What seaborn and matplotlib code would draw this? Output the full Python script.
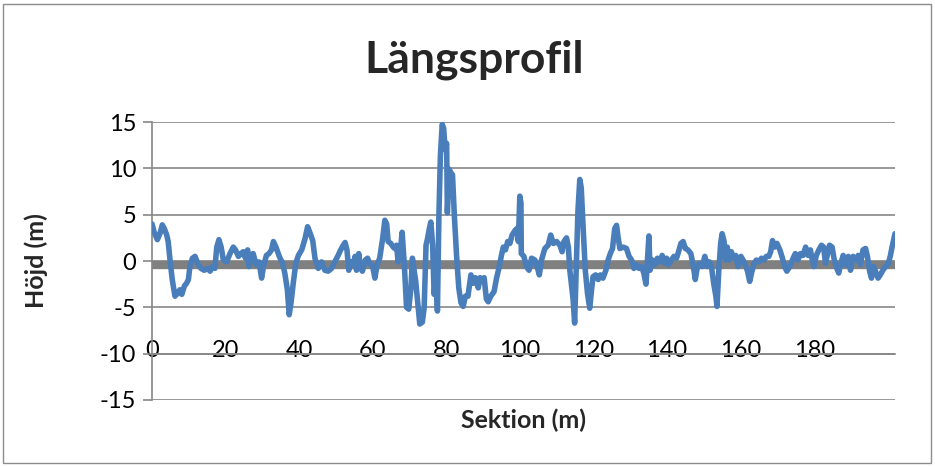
import matplotlib
matplotlib.use("Agg")
import matplotlib.pyplot as plt
import seaborn as sns
import pandas as pd
from matplotlib.patches import Rectangle

# ---------------- data ----------------
section_m = [
    0.0, 0.6, 1.45, 2.2, 2.8, 3.35, 4.0, 4.4, 4.9, 5.5, 6.25, 7.0, 7.6, 8.1, 8.8, 9.4, 9.9,
    10.3, 11.0, 11.7, 12.4, 13.3, 14.2, 15.1, 15.8, 16.4, 17.1, 17.6, 18.2, 18.8, 19.4,
    20.3, 21.2, 22.1, 22.7, 23.5, 24.2, 24.8, 25.4, 26.0, 26.4, 26.9, 27.5, 28.3, 29.1,
    29.8, 30.3, 31.1, 31.8, 32.5,
    33.0, 33.7, 34.6, 35.5, 36.1, 36.8, 37.3, 37.8, 38.4, 39.1, 39.8, 40.7, 41.6, 42.3,
    42.9, 43.7, 44.3, 45.2, 46.1, 47.0, 47.9, 48.8, 49.7, 50.6, 51.3, 52.0, 52.5, 53.0,
    53.5, 54.0, 54.7, 55.2, 55.6, 56.2, 56.7, 57.2, 58.0, 58.6, 59.2, 60.0, 60.6, 61.2,
    61.9, 62.7, 63.3, 63.8, 64.2, 64.9, 65.6,
    66.0, 66.5, 66.9, 67.4, 68.0, 68.6, 69.2, 69.8, 70.4, 70.8, 71.3, 71.7, 72.2, 72.8,
    73.5, 74.0, 74.5, 74.9, 75.4, 75.8, 76.3, 76.7, 77.2, 77.6, 78.0, 78.4, 78.9, 79.3,
    79.7, 80.1, 80.3, 80.8, 81.3, 81.7, 82.2, 82.8, 83.4, 84.0, 84.6, 85.2, 85.9, 86.7,
    87.3, 87.9, 88.7, 89.2, 89.8, 90.3, 90.9, 91.4, 92.1, 93.0, 93.7, 94.3, 95.0, 95.5,
    96.1, 96.7, 97.3, 97.9, 98.7, 99.2, 99.6, 100.0, 100.3,
    100.4, 101.1, 101.8, 102.5, 103.2, 104.1, 104.7, 105.3, 105.9, 106.8, 107.7, 108.4,
    109.1, 110.0, 110.9, 111.5, 112.0, 112.7, 113.2, 113.6, 114.0, 114.5, 114.9, 115.4,
    115.8, 116.3, 116.7, 117.2, 117.8, 118.4, 119.0, 119.5, 119.9, 120.6, 121.3, 121.9,
    122.6, 123.4, 124.0, 124.6, 125.2, 125.8, 126.3, 126.7, 127.2, 128.1, 129.0, 129.7,
    130.4, 131.0, 131.7, 132.4, 133.1, 133.7,
    134.3, 135.1, 135.4, 136.0, 136.7, 137.4, 138.0, 138.7, 139.4, 139.9, 140.5, 141.2,
    141.9, 142.6, 143.0, 143.8, 144.4, 145.0, 145.7, 146.5, 147.1, 147.7, 148.3, 148.9,
    149.6, 150.3, 151.0, 151.6, 152.1, 152.7, 153.3, 153.6, 154.1, 154.6, 155.0, 155.5,
    155.9, 156.4, 156.9, 157.5, 158.1, 158.7, 159.3, 160.1, 160.7, 161.3, 161.9, 162.5,
    163.0, 163.7, 164.3, 165.0, 165.7, 166.4, 167.0, 167.7, 168.2,
    168.7, 169.3, 169.9, 170.7, 171.4, 172.0, 172.6, 173.4, 174.3, 174.9, 175.6, 176.3,
    177.0, 177.7, 178.4, 179.0, 179.5, 180.0, 180.6, 181.3, 182.0, 182.6, 183.1, 183.8,
    184.2, 184.9, 185.4, 186.0, 186.7, 187.2, 187.9, 188.6, 189.3, 189.9, 190.6, 191.4,
    192.0, 192.6, 193.3, 194.0, 194.5, 195.1, 195.6, 196.2, 196.7, 197.4, 198.0, 198.7,
    199.4, 200.1, 200.7, 201.2, 201.6, 202.0,
]
height_m = [
    4.0, 3.1, 2.3, 3.0, 3.9, 3.5, 2.8, 2.1, 0.1, -2.0, -3.8, -3.45, -3.1, -3.6, -2.7, -2.4, -2.0,
    -0.6, 0.3, 0.5, -0.25, -0.8, -1.0, -0.8, -1.1, -0.6, -0.8, 1.5, 2.3, 1.5, 0.1,
    -0.1, 0.8, 1.5, 1.2, 0.5, 0.8, 1.0, 0.3, 1.2, -0.6, 0.6, 0.8, -0.4, -0.1,
    -1.85, -0.6, 0.6, 0.8, 1.2,
    2.1, 1.5, 0.5, -0.25, -1.3, -3.1, -5.8, -4.5, -2.4, -0.25, 0.6, 1.2, 2.4, 3.7,
    3.1, 2.2, 0.3, -0.8, -0.1, -1.0, -1.1, -0.8, -0.1, 0.6, 1.2, 1.7, 2.0, 1.2,
    -1.0, -0.1, -0.4, 0.5, -1.0, 0.8, -0.8, -1.1, 0.1, 0.3, -0.25, -0.6, -1.85, -0.4,
    0.3, 2.4, 4.4, 4.0, 2.1, 1.9, 1.5,
    1.35, 1.7, -0.1, 0.6, 3.1, -0.4, -5.0, -5.2, -2.9, 0.3, -1.1, -2.2, -4.3, -6.8,
    -6.6, -5.0, 1.7, 2.4, 3.5, 4.2, 1.7, -3.6, -1.5, -5.4, 4.9, 11.3, 14.75, 14.3,
    12.0, 12.7, 5.2, 9.9, 9.5, 9.3, 4.9, 0.6, -2.9, -4.5, -4.9, -3.8, -3.8, -1.5,
    -2.4, -1.8, -2.9, -1.8, -2.2, -1.8, -4.1, -4.4, -3.8, -3.3, -1.8, -0.8, 0.6, 1.5,
    1.2, 2.1, 1.9, 2.8, 3.3, 3.5, 2.1, 7.0, 6.3,
    0.8, 0.5, -0.6, -1.0, 0.3, 0.1, -0.6, -1.5, 0.1, 1.35, 1.7, 2.8,
    1.9, 2.1, 1.7, 1.0, 2.1, 2.5, 1.5, -1.0, -2.4, -4.2, -6.7, 0.1,
    5.4, 8.8, 7.9, 3.7, -1.0, -3.5, -5.1, -3.1, -1.7, -1.5, -2.0, -1.5,
    -1.85, -1.0, 0.1, 0.8, 1.35, 3.5, 3.85, 2.6, 1.35, 1.5, 1.35, 0.5,
    0.1, -0.8, -0.4, -0.8, -0.6, -1.3,
    -2.5, 2.7, -1.0, 0.1, -0.4, 0.3, -0.1, 0.6, -0.25, 0.3, -0.4, 0.1,
    0.5, 0.3, 0.8, 1.9, 2.1, 1.35, 1.2, 0.8, -0.4, -2.0, -0.6, -0.25,
    -0.6, 0.5, -0.6, -0.1, -0.6, -2.4, -3.8, -4.9, -1.0, 1.9, 2.95, 2.2,
    0.1, 1.5, 0.1, 1.0, 0.3, 0.6, -0.6, 0.5, 0.1, -0.4, -1.1, -2.2,
    -1.3, -0.25, 0.1, -0.1, 0.3, 0.1, 0.5, 0.5, 1.0,
    2.2, 1.5, 1.9, 1.2, 0.3, -0.6, -1.1, -0.6, 0.3, 0.8, 0.1, 0.8,
    0.6, 1.5, 0.6, 1.2, 0.1, -0.6, 0.6, 1.2, 1.7, 1.5, -0.25, 1.0,
    1.7, 1.5, 0.3, -0.6, -1.3, -0.4, 0.6, -0.4, 0.5, -1.0, 0.5, 0.1,
    0.6, -0.4, 1.2, 1.35, 0.5, -1.1, -1.85, -0.6, -1.1, -1.85, -1.5, -1.0,
    -0.6, -0.4, 0.5, 1.5, 2.2, 2.95,
]
reference_level = -0.45
x_ticks = [0, 20, 40, 60, 80, 100, 120, 140, 160, 180]
y_ticks = [-15, -10, -5, 0, 5, 10, 15]

title = "Längsprofil"
x_label = "Sektion (m)"
y_label = "Höjd (m)"

# ---------------- styling ----------------
sns.set_theme(style="white")
plt.rcParams["font.family"] = ["Lato", "DejaVu Sans"]
plt.rcParams["axes.unicode_minus"] = False

BLUE = "#4A7EBB"
GRAY = "#808080"
GRID = "#878787"

df = pd.DataFrame({"Sektion": section_m, "Höjd": height_m})
ref_df = pd.DataFrame({"Sektion": [section_m[0], section_m[-1]],
                       "Höjd": [reference_level, reference_level]})

fig = plt.figure(figsize=(9.35, 4.66), dpi=100)
W, H = 935, 466
left_px, right_px, top_px, bottom_px = 152, 895, 122, 400
ax = fig.add_axes([left_px / W, 1 - bottom_px / H,
                   (right_px - left_px) / W, (bottom_px - top_px) / H])

sns.lineplot(data=ref_df, x="Sektion", y="Höjd", ax=ax, color=GRAY,
             linewidth=6.0, zorder=2, solid_capstyle="butt")
sns.lineplot(data=df, x="Sektion", y="Höjd", ax=ax, color=BLUE,
             linewidth=4.0, zorder=3, sort=False,
             solid_joinstyle="round", solid_capstyle="round")

ax.set_xlim(section_m[0], section_m[-1])
ax.set_ylim(-15, 15)
ax.set_yticks(y_ticks)
ax.set_xticks(x_ticks)
ax.yaxis.grid(True, color=GRID, linewidth=1.2)
ax.xaxis.grid(False)
ax.set_axisbelow(True)

for s in ["top", "right"]:
    ax.spines[s].set_visible(False)
ax.spines["left"].set_color(GRID)
ax.spines["left"].set_linewidth(1.2)
ax.spines["bottom"].set_position(("data", -10))
ax.spines["bottom"].set_color(GRID)
ax.spines["bottom"].set_linewidth(1.2)

ax.tick_params(axis="y", left=True, length=6.5, width=1.2, color=GRID,
               pad=5, labelsize=17, labelcolor="black")
ax.tick_params(axis="x", bottom=False, length=0, pad=-10,
               labelsize=17, labelcolor="black")

ax.set_xlabel(x_label, fontsize=18, fontweight="bold")
ax.set_ylabel(y_label, fontsize=18, fontweight="bold")
ax.xaxis.set_label_coords(0.5, -0.032)
ax.yaxis.set_label_coords(-0.140, 0.5)

fig.text(474 / W, 1 - 60 / H, title, ha="center", va="center",
         fontsize=32, fontweight="bold")

fig.patches.append(Rectangle((3 / W, 3 / H), (W - 7) / W, (H - 7) / H,
                             transform=fig.transFigure, fill=False,
                             edgecolor="#8c8c8c", linewidth=1.0))

fig.savefig("out.png", dpi=100)
